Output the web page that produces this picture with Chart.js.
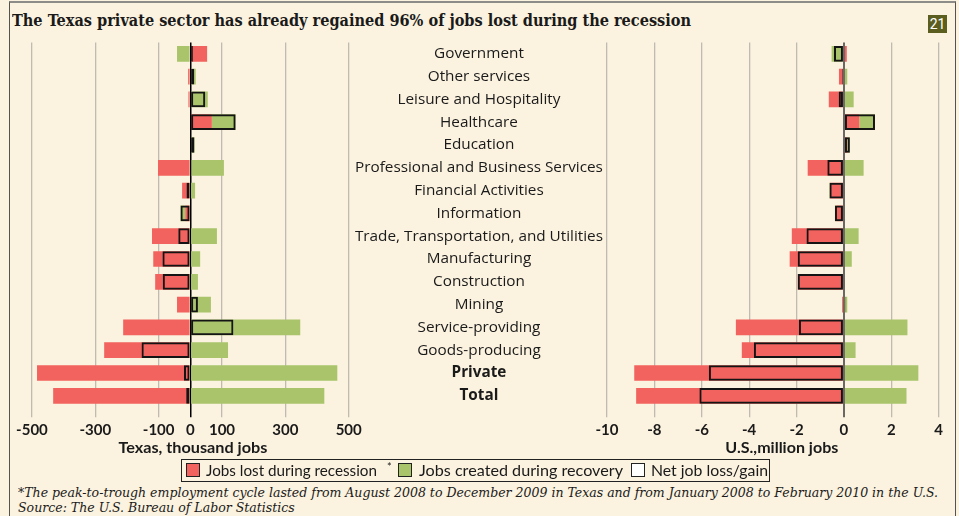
<!DOCTYPE html>
<html><head><meta charset="utf-8">
<script src="https://cdn.jsdelivr.net/npm/chart.js@4.4.1/dist/chart.umd.min.js"></script>
<style>
html,body{margin:0;padding:0;background:#fbf2df;}
#wrap{position:relative;width:959px;height:516px;overflow:hidden;background:#fbf2df;}
#frame{position:absolute;left:9px;top:1px;width:945px;height:530px;border-top:2px solid #8e8c88;border-left:1.5px solid #55534f;border-right:1.5px solid #55534f;}
canvas{position:absolute;top:0;}
#tx{left:0;}
#us{left:340px;}
.fit{position:absolute;white-space:nowrap;display:inline-block;transform-origin:0 0;}
#title{left:12px;top:12px;font-family:"DejaVu Serif Condensed","DejaVu Serif",serif;font-stretch:condensed;font-weight:bold;font-size:16px;line-height:18px;color:#1a1a1a;}
#badge{position:absolute;left:928px;top:15px;width:19px;height:18px;background:#5b5e1f;color:#fff;font-family:"Liberation Sans Narrow","Roboto",sans-serif;font-size:14px;line-height:18px;text-align:center;}
.axt{font-family:Lato,sans-serif;font-weight:bold;font-size:15px;line-height:16px;color:#1a1a1a;top:439px;transform-origin:50% 0;}
#legbox{position:absolute;left:181px;top:459px;width:587px;height:21px;border:1px solid #222;}
.sw{position:absolute;top:463px;width:12px;height:12px;border:1px solid #222;}
.lt{font-family:Lato,sans-serif;font-size:15px;line-height:16px;color:#1a1a1a;top:462px;}
#ast{position:absolute;left:387px;top:461px;font-family:Lato,sans-serif;font-size:11px;line-height:11px;color:#1a1a1a;}
.ft{font-family:"DejaVu Serif Condensed","DejaVu Serif",serif;font-stretch:condensed;font-style:italic;font-size:13px;line-height:15px;color:#1a1a1a;left:18px;}
</style></head><body>
<div id="wrap">
<div id="frame"></div>
<div id="title" class="fit">The Texas private sector has already regained 96% of jobs lost during the recession</div>
<div id="badge">21</div>
<canvas id="tx" width="380" height="460"></canvas>
<canvas id="us" width="619" height="460"></canvas>
<div id="axl" class="fit axt">Texas, thousand jobs</div>
<div id="axr" class="fit axt">U.S.,million jobs</div>
<div id="legbox"></div>
<div class="sw" style="left:186px;background:#f2625e;"></div>
<div id="l1" class="fit lt" style="left:206px;">Jobs lost during recession</div>
<div id="ast">*</div>
<div class="sw" style="left:398px;background:#a9c46b;"></div>
<div id="l2" class="fit lt" style="left:419px;">Jobs created during recovery</div>
<div class="sw" style="left:631px;background:#ffffff;"></div>
<div id="l3" class="fit lt" style="left:651px;">Net job loss/gain</div>
<div id="f1" class="fit ft" style="top:485px;">*The peak-to-trough employment cycle lasted from August 2008 to December 2009 in Texas and from January 2008 to February 2010 in the U.S.</div>
<div id="f2" class="fit ft" style="top:500px;">Source: The U.S. Bureau of Labor Statistics</div>
</div>
<script>
const categories = ['Government','Other services','Leisure and Hospitality','Healthcare','Education','Professional and Business Services','Financial Activities','Information','Trade, Transportation, and Utilities','Manufacturing','Construction','Mining','Service-providing','Goods-producing','Private','Total'];
const txLost    = [53, -7, -6, 68, 0, -102, -26, -16, -121, -117, -111, -42, -212, -272, -484, -433];
const txCreated = [-42, 17, 55, 75, 13, 106, 15, -15, 84, 31, 24, 65, 347, 119, 464, 423];
const txNet     = [8, 12, 47, 143, 13, 4, -12, -31, -38, -88, -87, 24, 136, -154, -20, -13];
const usLost    = [0.12, -0.21, -0.64, 0.65, 0.14, -1.53, -0.58, -0.32, -2.2, -2.29, -1.95, -0.08, -4.56, -4.31, -8.85, -8.77];
const usCreated = [-0.52, 0.14, 0.41, 0.66, 0.11, 0.83, -0.03, -0.06, 0.62, 0.33, 0, 0.14, 2.68, 0.49, 3.14, 2.64];
const usNet     = [-0.42, -0.07, -0.22, 1.31, 0.25, -0.70, -0.61, -0.38, -1.58, -1.95, -1.95, 0.06, -1.9, -3.8, -5.7, -6.1];
const txTicks = [-500, -300, -100, 0, 100, 300, 500];
const usTicks = [-10, -8, -6, -4, -2, 0, 2, 4];

const RED = '#f2625e', GREEN = '#a9c46b', GRID = '#bfbbb3';
const PLOT_TOP = 42.4, PLOT_BOTTOM = 407.2, H = 460;

function makeChart(id, lost, created, net, ticks, min, max, pad, zeroColor, zeroWidth, showLabels, yWidth) {
  return new Chart(document.getElementById(id), {
    type: 'bar',
    data: { labels: categories, datasets: [
      { label: 'Net job loss/gain', data: net, stack: 'net', grouped: false, backgroundColor: 'rgba(0,0,0,0)', borderColor: '#141414', borderWidth: 2, borderSkipped: false },
      { label: 'Jobs lost during recession', data: lost, stack: 'flow', grouped: false, backgroundColor: RED, borderWidth: 0 },
      { label: 'Jobs created during recovery', data: created, stack: 'flow', grouped: false, backgroundColor: GREEN, borderWidth: 0 }
    ]},
    options: {
      indexAxis: 'y', responsive: false, animation: false, devicePixelRatio: 1,
      layout: { padding: { left: pad.left, right: pad.right, top: PLOT_TOP, bottom: 0 } },
      plugins: { legend: { display: false }, tooltip: { enabled: false } },
      datasets: { bar: { barPercentage: 0.69, categoryPercentage: 1 } },
      scales: {
        x: {
          type: 'linear', stacked: true, min: min, max: max,
          afterBuildTicks: s => { s.ticks = ticks.map(v => ({ value: v })); },
          afterFit: s => { s.height = H - PLOT_BOTTOM; },
          border: { display: false },
          grid: {
            color: c => (c.tick && c.tick.value === 0) ? zeroColor : GRID,
            lineWidth: c => (c.tick && c.tick.value === 0) ? zeroWidth : 1.3,
            tickLength: 10, drawTicks: true
          },
          ticks: { autoSkip: false, maxRotation: 0, padding: 4, color: '#1a1a1a',
            font: { family: 'Lato', size: 15, weight: 'bold' },
            callback: v => String(v) }
        },
        y: {
          type: 'category', stacked: true, display: showLabels, position: 'left',
          afterFit: s => { if (yWidth) s.width = yWidth; },
          border: { display: false },
          grid: { display: false, drawTicks: false },
          ticks: { crossAlign: 'center', padding: 4, color: '#1a1a1a', autoSkip: false,
            font: c => ({ family: 'Open Sans', size: 15.3, weight: c.index >= 14 ? 'bold' : 'normal' }) }
        }
      }
    }
  });
}

makeChart('tx', txLost, txCreated, txNet, txTicks, -563, 500, { left: 12, right: 31.3 }, '#000', 1.5, false, 0);
makeChart('us', usLost, usCreated, usNet, usTicks, -10, 4.4, { left: 0, right: 10.8 }, '#6a6864', 2, true, 267);

function fitW(id, w) { const el = document.getElementById(id); const r = el.getBoundingClientRect().width; el.style.transform = 'scaleX(' + (w / r) + ')'; return w / r; }
function center(id, cx, w) { const el = document.getElementById(id); const r = el.getBoundingClientRect().width; el.style.left = (cx - r / 2) + 'px'; el.style.transform = 'scaleX(' + (w / r) + ')'; }
fitW('title', 679);
center('axl', 192.5, 149);
center('axr', 781.7, 113);
fitW('l1', 171); fitW('l2', 204); fitW('l3', 117);
const k = fitW('f1', 920);
document.getElementById('f2').style.transform = 'scaleX(' + k + ')';
</script>
</body></html>
